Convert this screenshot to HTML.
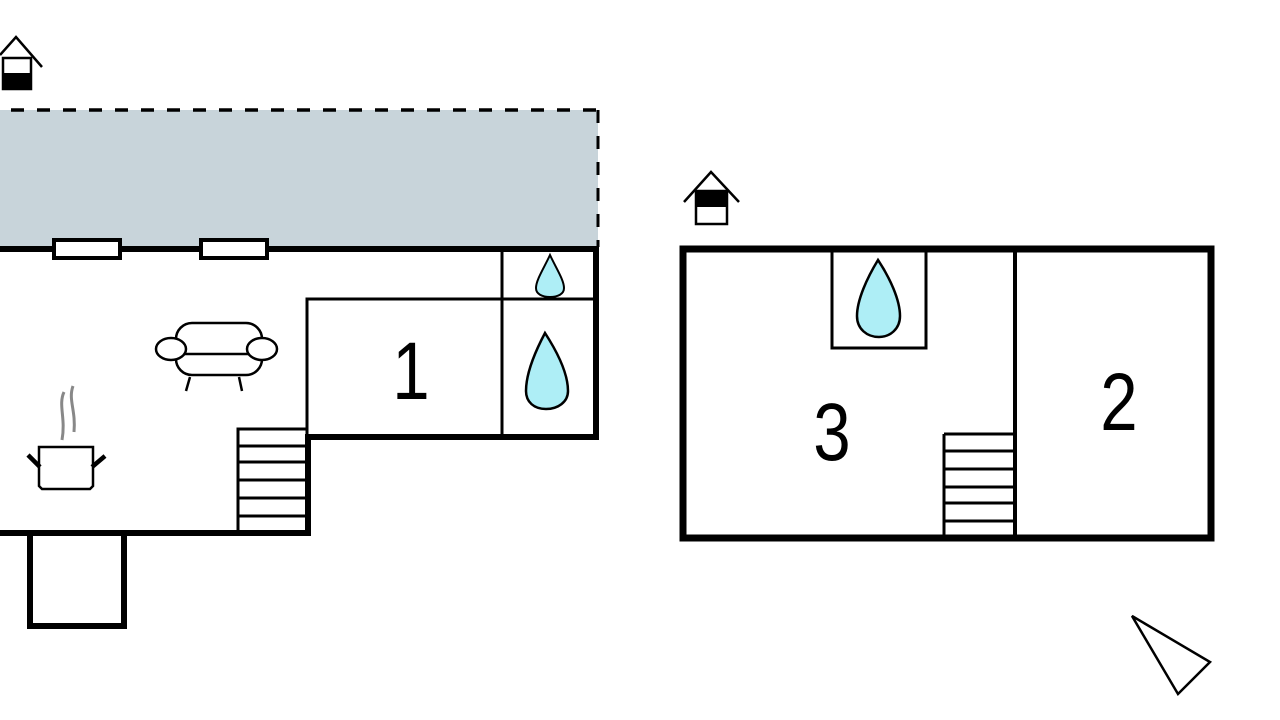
<!DOCTYPE html>
<html><head><meta charset="utf-8"><style>html,body{margin:0;padding:0;background:#fff}svg{display:block}</style></head>
<body>
<svg width="1280" height="720" viewBox="0 0 1280 720" xmlns="http://www.w3.org/2000/svg">
<rect width="1280" height="720" fill="#fff"/>
<rect x="0" y="110" width="598" height="137" fill="#c8d4da"/>
<line x1="11" y1="110" x2="598" y2="110" stroke="#000" stroke-width="3.5" stroke-dasharray="13 13"/>
<line x1="598" y1="110" x2="598" y2="247" stroke="#000" stroke-width="3" stroke-dasharray="13 13"/>
<g stroke="#000" fill="none" stroke-linecap="square">
<path d="M0 249 H596 V437 H308" stroke-width="6"/>
<path d="M308 437 V533 H0" stroke-width="6"/>
<path d="M30 535 V626 H124 V535" stroke-width="6"/>
<path d="M307 299 H596 M307 299 V437 M502 249 V437" stroke-width="3"/>
<path d="M238 429 H306 M238 446 H306 M238 462 H306 M238 480 H306 M238 498 H306 M238 516 H306 M238 429 V531" stroke-width="3"/>
</g>
<rect x="54" y="240" width="66" height="18" fill="#fff" stroke="#000" stroke-width="4"/>
<rect x="201" y="240" width="66" height="18" fill="#fff" stroke="#000" stroke-width="4"/>
<path d="M550 255 C556 268 564 280 564 288 C564 294 558 297 550 297 C542 297 536 294 536 288 C536 280 544 268 550 255 Z" fill="#aeeef6" stroke="#000" stroke-width="2"/>
<path d="M545 333 C556 350 568 372 568 391 C568 402 558 409 546 409 C534 409 526 402 526 391 C526 372 536 350 545 333 Z" fill="#aeeef6" stroke="#000" stroke-width="2.5"/>
<g stroke="#000" stroke-width="2.5" fill="#fff">
<rect x="176" y="323" width="86" height="52" rx="16"/>
<line x1="176" y1="354" x2="262" y2="354"/>
<ellipse cx="171" cy="349" rx="15" ry="11"/>
<ellipse cx="262" cy="349" rx="15" ry="11"/>
<line x1="190" y1="377" x2="186" y2="391"/>
<line x1="239" y1="377" x2="242" y2="391"/>
</g>
<g stroke="#000" stroke-width="2.5" fill="#fff">
<path d="M39 447 H93 V486 L90 489 H42 L39 486 Z"/>
<line x1="40" y1="467" x2="28" y2="455" stroke-width="4.5"/>
<line x1="92" y1="467" x2="105" y2="456" stroke-width="4.5"/>
</g>
<path d="M64 392 C58 405 66 418 62 440 M73 386 C68 400 76 410 74 432" stroke="#888" stroke-width="3" fill="none"/>
<g stroke="#000" stroke-width="2.5" fill="none">
<path d="M0 55 L16 37 L42 67"/>
<rect x="3" y="58" width="28" height="31" fill="#fff"/>
</g>
<rect x="3" y="73" width="28" height="17" fill="#000"/>
<g stroke="#000" stroke-width="2.5" fill="none">
<path d="M684 202 L711 172 L739 202"/>
<rect x="696" y="191" width="31" height="33" fill="#fff"/>
</g>
<rect x="696" y="191" width="31" height="16" fill="#000"/>
<g stroke="#000" fill="none">
<rect x="683" y="249" width="528" height="289" stroke-width="7"/>
<line x1="1015" y1="249" x2="1015" y2="538" stroke-width="4"/>
<path d="M832 252 V348 H926 V252" stroke-width="3"/>
<path d="M944 434 H1013 M944 451 H1013 M944 469 H1013 M944 487 H1013 M944 503 H1013 M944 521 H1013 M944 434 V537" stroke-width="3"/>
</g>
<path d="M878 260 C890 278 900 300 900 316 C900 329 890 337 879 337 C867 337 857 329 857 316 C857 300 867 278 878 260 Z" fill="#aeeef6" stroke="#000" stroke-width="2.5"/>
<g font-family="Liberation Sans, sans-serif" font-size="82" fill="#000" text-anchor="middle">
<text transform="translate(411 399) scale(0.82 1)">1</text>
<text transform="translate(832 460) scale(0.82 1)">3</text>
<text transform="translate(1119 430) scale(0.82 1)">2</text>
</g>
<polygon points="1132,616 1210,662 1178,694" fill="none" stroke="#000" stroke-width="2.5"/>
</svg>
</body></html>
